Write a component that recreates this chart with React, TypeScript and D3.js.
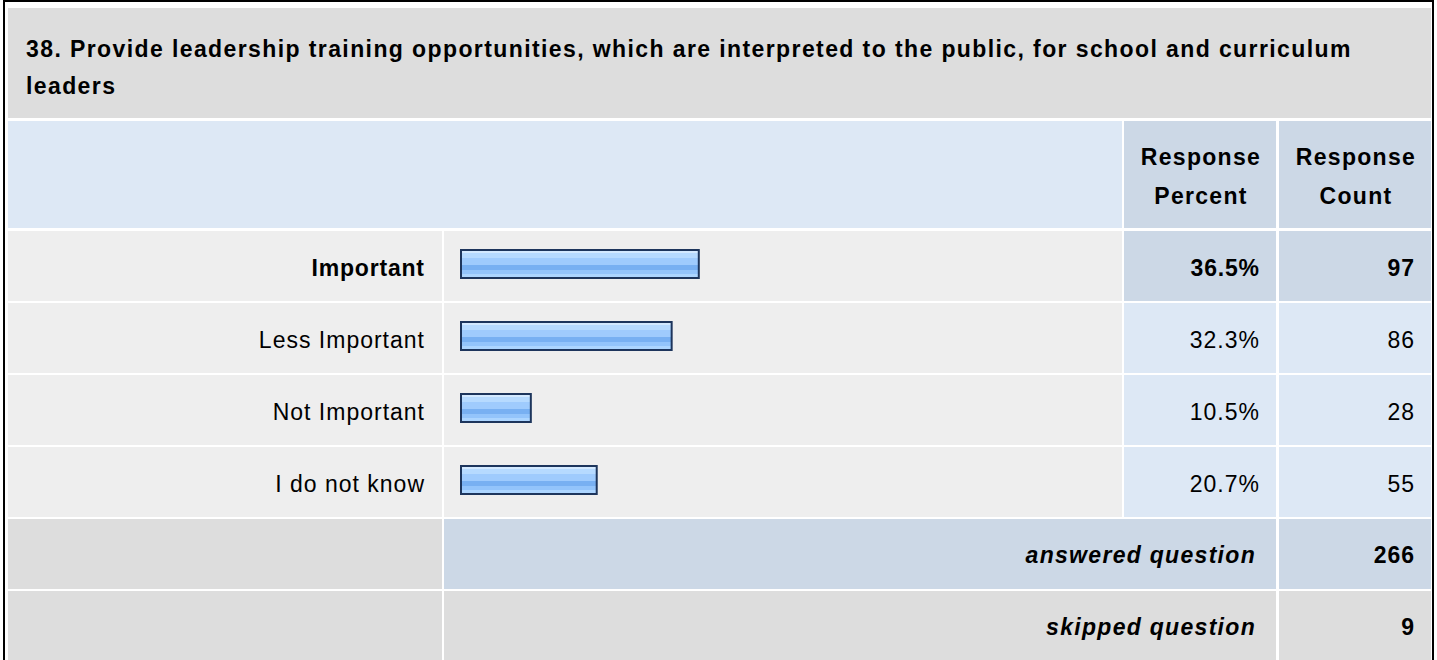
import React from "react";
import * as d3 from "d3";

const titleLines = [
  "38. Provide leadership training opportunities, which are interpreted to the public, for school and curriculum",
  "leaders",
];
const headerPercent = ["Response", "Percent"];
const headerCount = ["Response", "Count"];
const categories = ["Important", "Less Important", "Not Important", "I do not know"];
const percents = [36.5, 32.3, 10.5, 20.7];
const counts = [97, 86, 28, 55];
const answeredLabel = "answered question";
const skippedLabel = "skipped question";
const answeredCount = 266;
const skippedCount = 9;

const W = 1437;
const H = 660;
const FONT = "'Liberation Sans', Arial, Helvetica, sans-serif";
const FS = 23;

// column edges
const C = { l0: 8, l1: 442, b0: 444, b1: 1122, p0: 1124, p1: 1276, c0: 1279, c1: 1431 };

const GREY = "#dddddd";
const ROWBG = "#eeeeee";
const LBLUE = "#dde8f5";
const MBLUE = "#ccd8e6";

export default function App() {
  const rowKeys = [...categories, "answered", "skipped"];
  const y = d3.scaleBand<string>().domain(rowKeys).range([231, 661]).paddingInner(2 / 72).paddingOuter(0);
  const x = d3.scaleLinear().domain([0, 100]).range([464, 1110]);
  const barX0 = 460;
  const maxIdx = percents.indexOf(d3.max(percents) as number);
  const bh = y.bandwidth();

  const txt = (
    s: string | number,
    xx: number,
    yy: number,
    anchor: "start" | "middle" | "end",
    bold: boolean,
    ls: number,
    italic = false,
    key?: string
  ) => (
    <text
      key={key}
      x={xx}
      y={yy}
      textAnchor={anchor}
      fontFamily={FONT}
      fontSize={FS}
      fontWeight={bold ? "bold" : "normal"}
      fontStyle={italic ? "italic" : "normal"}
      letterSpacing={ls}
      fill="#000"
    >
      {s}
    </text>
  );

  return (
    <svg width={W} height={H} style={{ position: "absolute", left: 0, top: 0, display: "block" }}>
      <defs>
        <linearGradient id="barGrad" x1="0" y1="0" x2="0" y2="1">
          <stop offset="0%" stopColor="#d3e9ff" />
          <stop offset="12%" stopColor="#d3e9ff" />
          <stop offset="12%" stopColor="#b6daff" />
          <stop offset="28%" stopColor="#b6daff" />
          <stop offset="28%" stopColor="#9fcbfd" />
          <stop offset="55%" stopColor="#9fcbfd" />
          <stop offset="55%" stopColor="#78b0f2" />
          <stop offset="72%" stopColor="#78b0f2" />
          <stop offset="72%" stopColor="#93c4fb" />
          <stop offset="86%" stopColor="#93c4fb" />
          <stop offset="86%" stopColor="#acd5ff" />
          <stop offset="100%" stopColor="#acd5ff" />
        </linearGradient>
      </defs>
      <rect x={0} y={0} width={W} height={H} fill="#fff" />
      <rect x={4} y={1} width={1429} height={H + 20} fill="#fff" stroke="#000" strokeWidth={2} />

      {/* title */}
      <rect x={C.l0} y={8} width={C.c1 - C.l0} height={110} fill={GREY} />
      {titleLines.map((t, i) => txt(t, 26, 57 + i * 37, "start", true, 1.4, false, "t" + i))}

      {/* header */}
      <rect x={C.l0} y={121} width={C.b1 - C.l0} height={107} fill={LBLUE} />
      <rect x={C.p0} y={121} width={C.p1 - C.p0} height={107} fill={MBLUE} />
      <rect x={C.c0} y={121} width={C.c1 - C.c0} height={107} fill={MBLUE} />
      {headerPercent.map((t, i) => txt(t, (C.p0 + C.p1) / 2 + 1, 165 + i * 39, "middle", true, 1.3, false, "hp" + i))}
      {headerCount.map((t, i) => txt(t, (C.c0 + C.c1) / 2 + 1, 165 + i * 39, "middle", true, 1.3, false, "hc" + i))}

      {/* category rows */}
      {categories.map((c, i) => {
        const top = y(c) as number;
        const hi = i === maxIdx;
        const cellFill = hi ? MBLUE : LBLUE;
        const w = x(percents[i]) - barX0;
        const barTop = top + 18;
        const barH = 30;
        const ls = hi ? 0.8 : 1.0;
        return (
          <g key={c}>
            <rect x={C.l0} y={top} width={C.l1 - C.l0} height={bh} fill={ROWBG} />
            <rect x={C.b0} y={top} width={C.b1 - C.b0} height={bh} fill={ROWBG} />
            <rect x={C.p0} y={top} width={C.p1 - C.p0} height={bh} fill={cellFill} />
            <rect x={C.c0} y={top} width={C.c1 - C.c0} height={bh} fill={cellFill} />
            <rect
              x={barX0 + 1}
              y={barTop + 1}
              width={w - 2}
              height={barH - 2}
              fill="url(#barGrad)"
              stroke="#1d355c"
              strokeWidth={2}
            />
            {txt(c, 424 + ls, top + 45, "end", hi, ls)}
            {txt(percents[i].toFixed(1) + "%", 1259 + ls, top + 45, "end", hi, ls)}
            {txt(counts[i], 1414 + ls, top + 45, "end", hi, ls)}
          </g>
        );
      })}

      {/* answered */}
      {(() => {
        const top = y("answered") as number;
        return (
          <g>
            <rect x={C.l0} y={top} width={C.l1 - C.l0} height={bh} fill={GREY} />
            <rect x={C.b0} y={top} width={C.p1 - C.b0} height={bh} fill={MBLUE} />
            <rect x={C.c0} y={top} width={C.c1 - C.c0} height={bh} fill={MBLUE} />
            {txt(answeredLabel, 1256, top + 44, "end", true, 1.3, true)}
            {txt(answeredCount, 1415, top + 44, "end", true, 1.0)}
          </g>
        );
      })()}

      {/* skipped */}
      {(() => {
        const top = y("skipped") as number;
        return (
          <g>
            <rect x={C.l0} y={top} width={C.l1 - C.l0} height={bh} fill={GREY} />
            <rect x={C.b0} y={top} width={C.p1 - C.b0} height={bh} fill={GREY} />
            <rect x={C.c0} y={top} width={C.c1 - C.c0} height={bh} fill={GREY} />
            {txt(skippedLabel, 1256, top + 44, "end", true, 1.3, true)}
            {txt(skippedCount, 1415, top + 44, "end", true, 1.0)}
          </g>
        );
      })()}
    </svg>
  );
}
